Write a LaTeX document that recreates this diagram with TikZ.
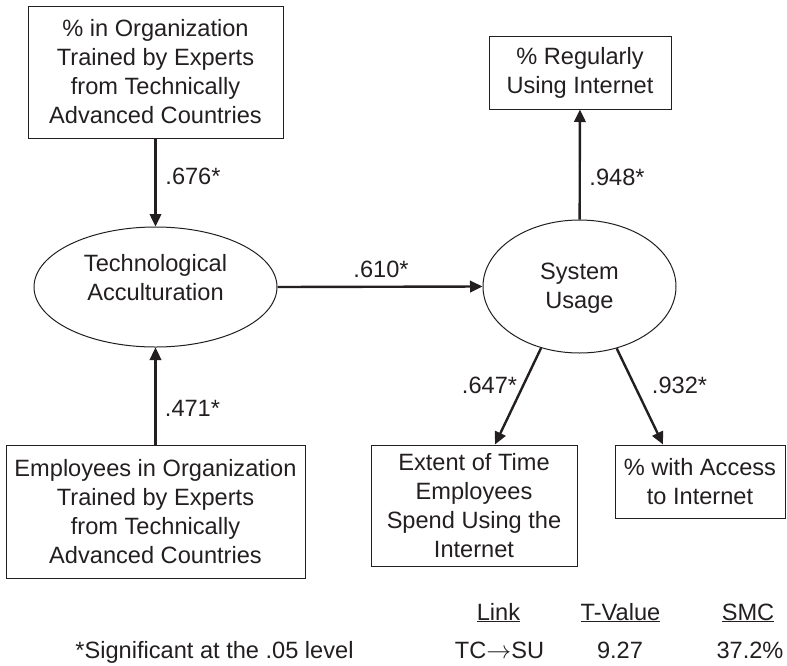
\documentclass[tikz,border=0pt]{standalone}
\usepackage{fontspec}
\setmainfont{Liberation Sans}
\usetikzlibrary{shapes.geometric,arrows.meta,calc}
\definecolor{ink}{RGB}{35,31,32}
\begin{document}
\begin{tikzpicture}[x=1pt,y=-1pt,
  font=\fontsize{23.6}{29}\selectfont, text=ink,
  every node/.style={inner sep=0pt},
  obs/.style={draw=ink, line width=1pt, align=center},
  lat/.style={draw=ink, ellipse, line width=1pt, align=center},
  arr/.style={draw=ink, line width=2.4pt, -{Triangle[length=12.5pt,width=11.5pt]}},
  coef/.style={anchor=center},
  tab/.style={anchor=base}]
\useasboundingbox (0,0) rectangle (787,665);

% observed indicators
\node[obs, minimum width=255, minimum height=132] (tr1) at (155.5,72)
  {\% in Organization\\Trained by Experts\\from Technically\\Advanced Countries};
\node[obs, minimum width=299, minimum height=133] (tr2) at (155.5,511.5)
  {Employees in Organization\\Trained by Experts\\from Technically\\Advanced Countries};
\node[obs, minimum width=182, minimum height=73] (reg) at (580,72.5)
  {\% Regularly\\Using Internet};
\node[obs, minimum width=206, minimum height=121] (ext) at (474,505.5)
  {Extent of Time\\Employees\\Spend Using the\\Internet};
\node[obs, minimum width=170, minimum height=73] (acc) at (700,481.5)
  {\% with Access\\to Internet};

% latent constructs
\node[lat, minimum width=243, minimum height=120] (ta) at (155.5,287) {};
\node[align=center] (tatext) at (155.5,277.5) {Technological\\Acculturation};
\node[lat, minimum width=193, minimum height=133] (su) at (579.5,286.5) {};
\node[align=center] (sutext) at (579.5,288) {System\\Usage};

% paths
\draw[arr] (tr1) -- (ta);
\draw[arr] (tr2) -- (ta);
\draw[arr] (ta.east) -- (su.west);
\draw[arr] (su) -- (reg);
\coordinate (extin) at ($(ext.north)+(21,0)$);
\coordinate (accin) at ($(acc.north)+(-37,0)$);
\draw[arr] (su.238.6) -- (extin);
\draw[arr] (su.301.4) -- (accin);

% path coefficients
\node[coef] (c676) at (193,176) {.676*};
\node[coef] (c948) at (617,177) {.948*};
\node[coef] (c610) at (381,269.5) {.610*};
\node[coef] (c471) at (192.5,408) {.471*};
\node[coef] (c647) at (489.5,385) {.647*};
\node[coef] (c932) at (679.5,385) {.932*};

% summary table
\node[tab] (hlink) at (498.5,620) {\underline{Link}};
\node[tab] (htval) at (620.5,620) {\underline{T-Value}};
\node[tab] (hsmc)  at (748,620)   {\underline{SMC}};
\node[tab] (vlink) at (499.5,658) {TC$\rightarrow$SU};
\node[tab] (vtval) at (620,658)   {9.27};
\node[tab] (vsmc)  at (750,658)   {37.2\%};
\node[tab] (note)  at (214.5,658) {*Significant at the .05 level};
\end{tikzpicture}
\end{document}
